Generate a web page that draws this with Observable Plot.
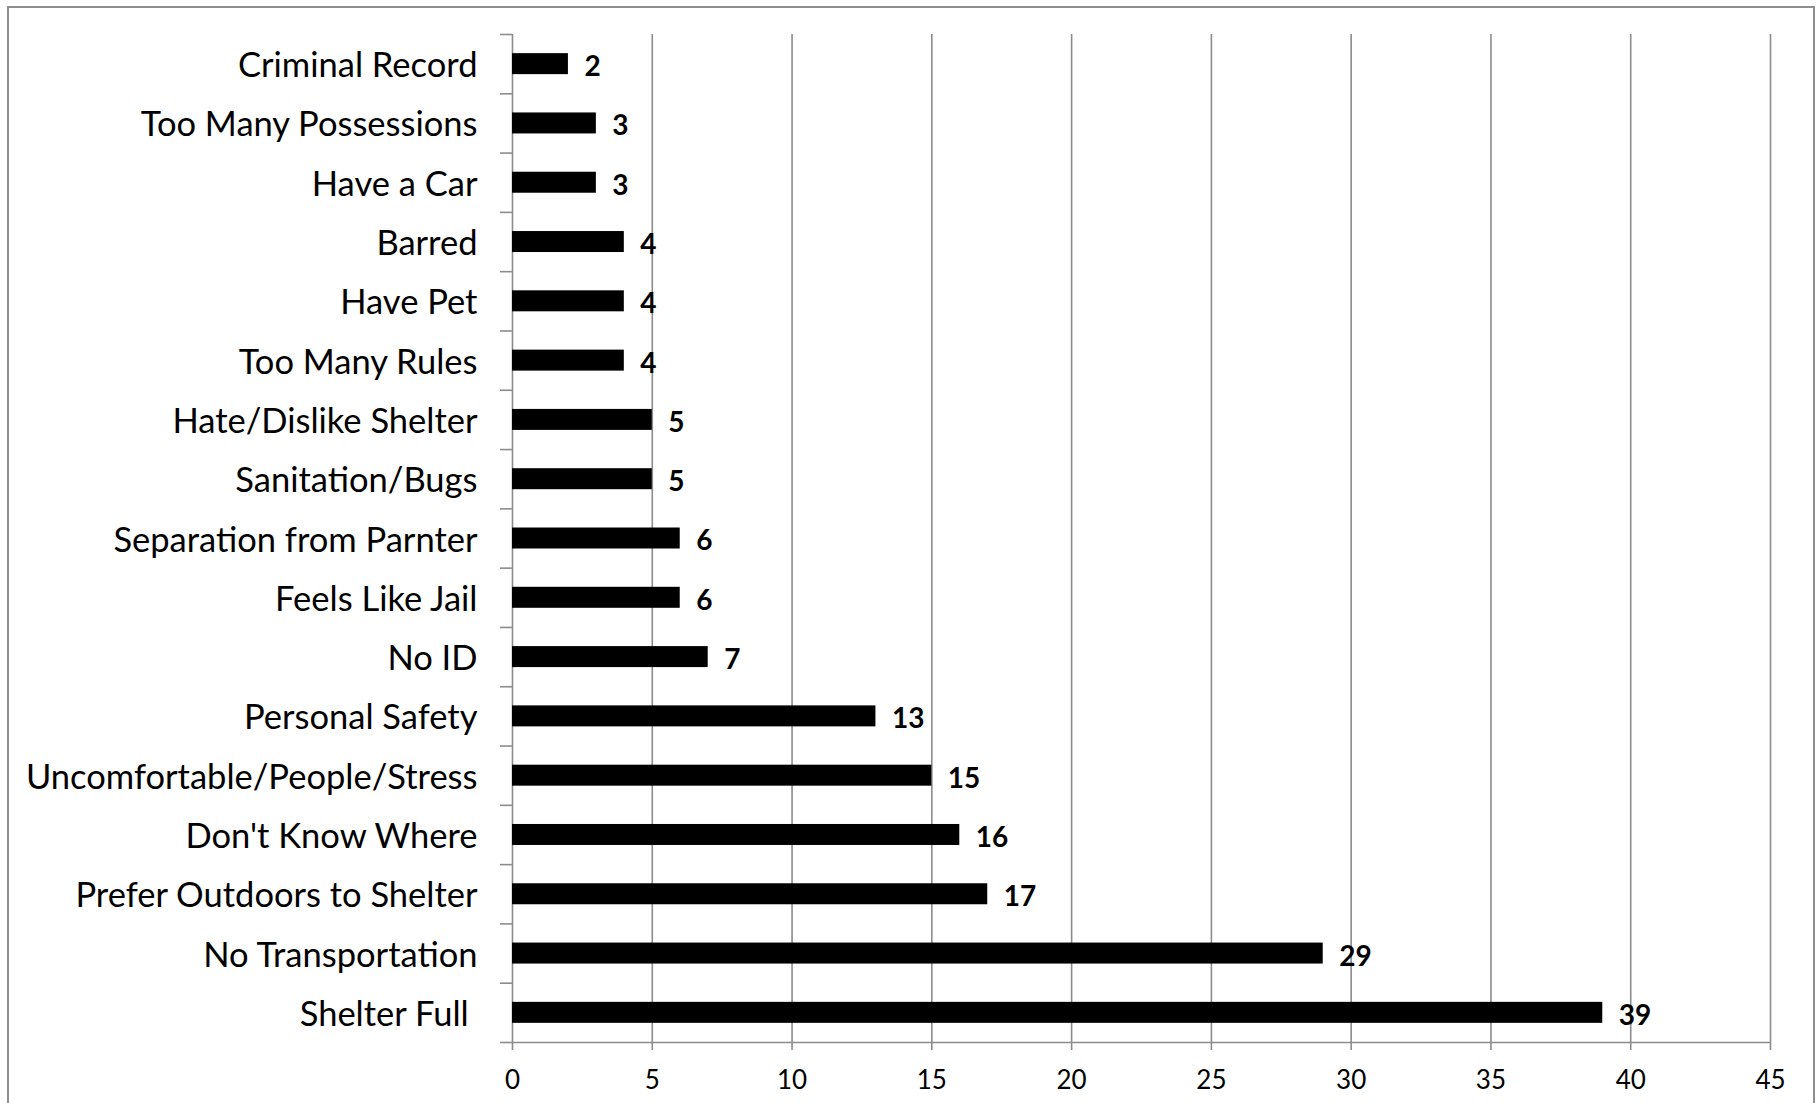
<!DOCTYPE html>
<html>
<head>
<meta charset="utf-8">
<script src="https://cdn.jsdelivr.net/npm/d3@7"></script>
<script src="https://cdn.jsdelivr.net/npm/@observablehq/plot@0.6"></script>
<style>
  html, body { margin: 0; padding: 0; background: #fff; overflow: hidden; }
  #wrap { position: relative; width: 1820px; height: 1103px; }
  #frame { position: absolute; left: 7px; top: 6px; width: 1808px; height: 1120px; border: 2px solid #8e8e8e; box-sizing: border-box; pointer-events: none; }
  #chart { position: absolute; left: 0; top: 0; }
</style>
</head>
<body>
<div id="wrap">
  <div id="frame"></div>
  <div id="chart"></div>
</div>
<script>
// Categories top-to-bottom as shown
const categories = [
  "Criminal Record",
  "Too Many Possessions",
  "Have a Car",
  "Barred",
  "Have Pet",
  "Too Many Rules",
  "Hate/Dislike Shelter",
  "Sanitation/Bugs",
  "Separation from Parnter",
  "Feels Like Jail",
  "No ID",
  "Personal Safety",
  "Uncomfortable/People/Stress",
  "Don't Know Where",
  "Prefer Outdoors to Shelter",
  "No Transportation",
  "Shelter Full "
];
const values = [2, 3, 3, 4, 4, 4, 5, 5, 6, 6, 7, 13, 15, 16, 17, 29, 39];
const xTicks = [0, 5, 10, 15, 20, 25, 30, 35, 40, 45];

const data = categories.map((c, i) => ({category: c, value: values[i], i}));
const half = 0.177; // half bar thickness in band units
const font = "Lato, 'Open Sans', sans-serif";
const grid = "#8c8c8c";

const chart = Plot.plot({
  width: 1820,
  height: 1103,
  marginLeft: 512,
  marginRight: 50,
  marginTop: 34,
  marginBottom: 61,
  style: {fontFamily: font, background: "transparent", overflow: "visible"},
  x: {domain: [0, 45], ticks: xTicks},
  y: {domain: [0, categories.length], range: [34, 1103 - 61]},
  marks: [
    Plot.ruleX(xTicks.filter(t => t > 0), {stroke: grid, strokeWidth: 1.6}),
    Plot.ruleY([categories.length], {stroke: grid, strokeWidth: 1.6}),
    Plot.ruleX([0], {stroke: grid, strokeWidth: 1.6}),
    Plot.axisX({
      ticks: xTicks, tickSize: 8, tickPadding: 20, stroke: grid,
      fontSize: 26, fill: "#000", strokeWidth: 1.6, label: null
    }),
    Plot.axisY({
      ticks: d3.range(categories.length + 1), tickSize: 12, tickFormat: () => "",
      stroke: grid, strokeWidth: 1.6, label: null
    }),
    Plot.axisY({
      ticks: d3.range(categories.length).map(i => i + 0.5),
      tickFormat: t => categories[Math.floor(t)],
      tickSize: 0, tickPadding: 35, fontSize: 34.5, fill: "#000", dy: 2, label: null
    }),
    Plot.rectX(data, {
      x1: 0, x2: "value",
      y1: d => d.i + 0.5 - half, y2: d => d.i + 0.5 + half,
      fill: "#000"
    }),
    Plot.text(data, {
      x: "value", y: d => d.i + 0.5, text: d => String(d.value),
      textAnchor: "start", dx: 16, dy: 3, fontSize: 28, fontWeight: "bold", fill: "#000"
    })
  ]
});
document.getElementById("chart").appendChild(chart);
</script>
</body>
</html>
